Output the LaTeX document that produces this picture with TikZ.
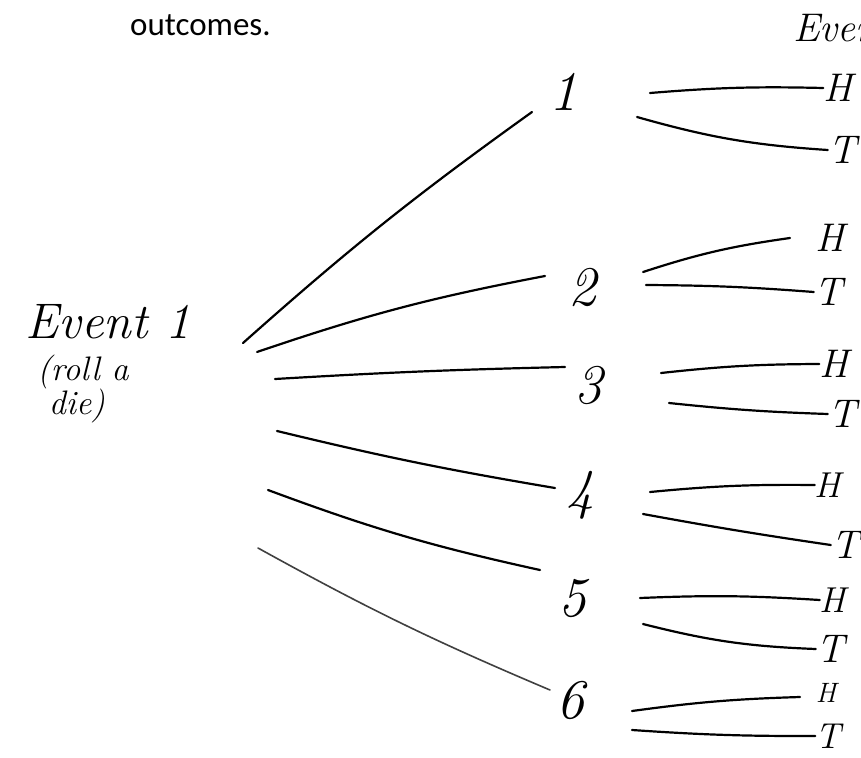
\documentclass[tikz,border=0pt]{standalone}
\usepackage{fontspec}
\newfontfamily\printfont{Carlito}
\begin{document}
\begin{tikzpicture}[x=1pt,y=-1pt,
  hand/.style={font=\fontsize{#1}{#1}\selectfont\itshape, inner sep=0pt},
  hand/.default=40,
  branch/.style={line width=2.2pt, line cap=round, black}]
\useasboundingbox (0,0) rectangle (861,757);
% header text
\node[font=\printfont\fontsize{33}{33}\selectfont, inner sep=0pt, anchor=base west] (outc) at (130,36) {outcomes.};
\begin{scope}
  \clip (0,0) rectangle (861,757);
  \node[hand=40, anchor=base west] (ev2) at (793,42) {Event 2};
\end{scope}
% event 1 label
\node[hand=50, anchor=base] (ev1) at (108,338) {Event 1};
\node[hand=34, anchor=base] (roll) at (83,380) {(roll a};
\node[hand=34, anchor=base] (die) at (77,414) {die)};
% die outcomes
\node[hand=56] (n1) at (563,92) {1};
\node[hand=56] (n2) at (582,287) {2};
\node[hand=56] (n3) at (588,385) {3};
\node[hand=56] (n4) at (580,495) {4};
\node[hand=56] (n5) at (572,598) {5};
\node[hand=56] (n6) at (570,700) {6};
% coin outcomes
\node[hand=40] (h1) at (838,88) {H};
\node[hand=40] (t1) at (842,150) {T};
\node[hand=40] (h2) at (830,238) {H};
\node[hand=40] (t2) at (828,292) {T};
\node[hand=40] (h3) at (834,364) {H};
\node[hand=40] (t3) at (842,414) {T};
\node[hand=36] (h4) at (828,485) {H};
\node[hand=40] (t4) at (845,545) {T};
\node[hand=36] (h5) at (833,600) {H};
\node[hand=40] (t5) at (830,649) {T};
\node[hand=28] (h6) at (826,693) {H};
\node[hand=36] (t6) at (828,736) {T};
% start/end points of first-level branches
\coordinate (a1) at (243,343); \coordinate (b1) at (532,112);
\coordinate (a2) at (257,352); \coordinate (b2) at (545,276);
\coordinate (a3) at (275,379); \coordinate (b3) at (565,367);
\coordinate (a4) at (277,431); \coordinate (b4) at (555,488);
\coordinate (a5) at (268,490); \coordinate (b5) at (540,570);
\coordinate (a6) at (258,548); \coordinate (b6) at (550,690);
\draw[branch] (a1) to[bend left=3] (b1);
\draw[branch] (a2) to[bend left=4] (b2);
\draw[branch] (a3) to[bend left=1] (b3);
\draw[branch] (a4) to[bend right=2] (b4);
\draw[branch] (a5) to[bend right=4] (b5);
\draw[branch, line width=1.6pt, black!75] (a6) to[bend right=3] (b6);
% second-level branches
\coordinate (p1h) at (650,93);  \draw[branch] (p1h) to[bend left=3] (h1.west);
\coordinate (p1t) at (637,117); \draw[branch] (p1t) to[bend right=6] (t1.west);
\coordinate (p2h) at (643,272); \draw[branch] (p2h) to[bend left=5] (790,238);
\coordinate (p2t) at (646,285); \draw[branch] (p2t) to[bend left=2] (t2.west);
\coordinate (p3h) at (661,373); \draw[branch] (p3h) to[bend left=3] (h3.west);
\coordinate (p3t) at (669,403); \draw[branch] (p3t) to[bend right=2] (t3.west);
\coordinate (p4h) at (650,492); \draw[branch] (p4h) to[bend left=3] (h4.west);
\coordinate (p4t) at (643,514); \draw[branch] (p4t) to[bend right=1] (t4.west);
\coordinate (p5h) at (640,598); \draw[branch] (p5h) to[bend left=3] (h5.west);
\coordinate (p5t) at (643,624); \draw[branch] (p5t) to[bend right=6] (t5.west);
\coordinate (p6h) at (632,711); \draw[branch] (p6h) to[bend left=3] (800,697);
\coordinate (p6t) at (632,730); \draw[branch] (p6t) to[bend right=2] (t6.west);
\end{tikzpicture}
\end{document}
